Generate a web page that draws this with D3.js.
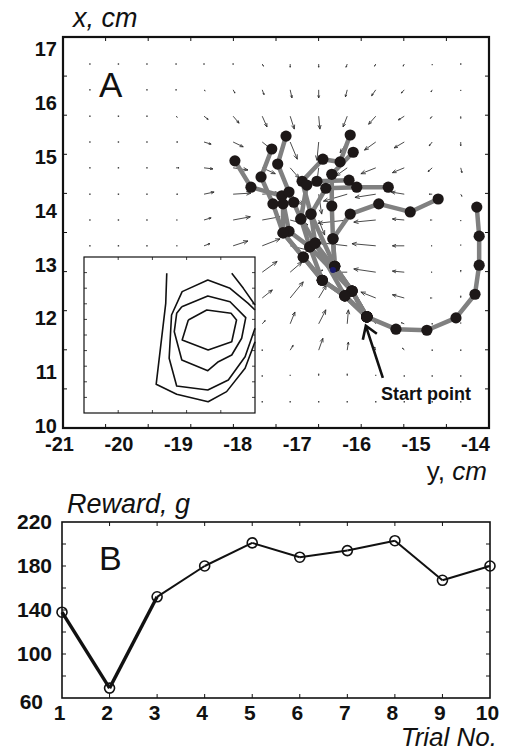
<!DOCTYPE html>
<html>
<head>
<meta charset="utf-8">
<script src="https://cdn.jsdelivr.net/npm/d3@7"></script>
<style>
  body { margin: 0; background: #fff; }
  text { font-family: "Liberation Sans", Arial, sans-serif; fill: #111; }
</style>
</head>
<body>
<svg id="fig" width="512" height="751"></svg>
<script>
// ---- panel A: tick labels ----
const yTicksA = [-21, -20, -19, -18, -17, -16, -15, -14];
const xTicksA = [10, 11, 12, 13, 14, 15, 16, 17];

// ---- panel A: quiver field (grid in cm, components in 0.01 cm) ----
const gridY = [-20.48, -20.0, -19.52, -19.03, -18.56, -18.07, -17.58, -17.11, -16.63, -16.15, -15.67, -15.19, -14.72, -14.24];
const gridX = [16.73, 16.25, 15.76, 15.28, 14.80, 14.31, 13.83, 13.35, 12.86, 12.38, 11.90, 11.41, 10.93, 10.45];
const quiverU = [
  [0,0,0,0,0,0,2,0,0,-2,-2,-2,0,0],
  [0,0,0,0,2,3,3,3,0,-3,-7,-5,-2,0],
  [0,0,0,2,7,10,8,7,2,-7,-12,-10,-3,0],
  [0,0,0,3,12,17,17,12,-3,-12,-19,-17,-5,0],
  [0,0,0,5,15,25,22,15,-3,-19,-25,-20,-7,2],
  [0,0,0,3,17,30,29,22,5,-40,-35,-22,-5,2],
  [0,0,0,2,12,29,30,30,10,-49,-37,-20,-3,0],
  [0,0,0,2,10,25,30,34,8,-47,-40,-20,-2,0],
  [0,0,0,0,0,0,25,20,7,-20,-37,-20,-2,0],
  [0,0,0,0,0,0,17,22,13,-10,-25,-20,-3,0],
  [0,0,0,0,0,0,5,8,12,2,-7,-5,0,0],
  [0,0,0,0,0,0,0,5,7,2,-2,-3,0,0],
  [0,0,0,0,0,0,0,0,0,0,0,0,0,0],
  [0,0,0,0,0,0,0,0,0,0,0,0,0,0]
];
const quiverV = [
  [0,0,0,0,0,0,-4,-6,-6,-6,-4,-4,-2,0],
  [0,0,0,0,-2,-6,-9,-15,-15,-13,-11,-6,-4,-2],
  [0,0,0,-2,-6,-13,-20,-24,-24,-20,-15,-7,-4,-4],
  [0,0,0,0,-4,-9,-15,-32,-34,-20,-15,-11,-7,-7],
  [0,0,0,0,-2,-4,-11,-19,-26,-15,-11,-9,-7,-9],
  [0,0,0,0,4,2,2,-20,-37,-13,-6,4,0,-4],
  [0,0,0,0,4,6,6,-9,-28,-6,-4,2,0,-2],
  [0,0,0,0,4,9,13,-9,-19,6,4,0,0,2],
  [0,0,0,0,0,0,20,19,4,0,6,2,0,4],
  [0,0,0,0,0,0,15,30,24,19,11,6,0,4],
  [0,0,0,0,0,0,6,22,26,26,11,2,0,2],
  [0,0,0,0,0,0,0,9,22,15,6,4,0,0],
  [0,0,0,0,0,0,0,2,4,4,2,0,0,0],
  [0,0,0,0,0,0,0,0,0,0,0,0,0,0]
];

// ---- panel A: trajectories, one per trial, [y cm, x cm] from the start point ----
const trajectories = [
  [[-15.82,12.03],[-15.33,11.80],[-14.81,11.78],[-14.32,12.01],[-14.00,12.45],[-13.93,12.99],[-13.93,13.53],[-13.97,14.07]],
  [[-15.82,12.03],[-16.07,12.51],[-16.36,12.97],[-16.39,13.48],[-16.10,13.94],[-15.62,14.13],[-15.09,13.98],[-14.62,14.22]],
  [[-15.82,12.03],[-16.19,12.42],[-16.57,12.71],[-16.89,13.14],[-17.23,13.59],[-17.40,14.13],[-17.60,14.63],[-17.42,15.15]],
  [[-15.82,12.03],[-16.07,12.51],[-16.78,13.33],[-17.13,13.62],[-17.25,14.28],[-17.77,14.44],[-18.04,14.93]],
  [[-15.82,12.03],[-16.19,12.42],[-16.69,13.40],[-16.93,13.85],[-17.13,14.35],[-17.32,14.87],[-17.18,15.39]],
  [[-15.82,12.03],[-16.07,12.51],[-16.36,12.97],[-16.76,13.94],[-16.91,14.55],[-16.56,14.96],[-16.27,14.91],[-16.10,15.41]],
  [[-15.82,12.03],[-16.07,12.51],[-16.36,12.97],[-16.39,13.48],[-16.41,14.09],[-16.41,14.68],[-16.05,15.09]],
  [[-15.82,12.03],[-16.19,12.42],[-16.57,12.71],[-16.78,13.33],[-16.93,13.85],[-16.83,14.48],[-16.66,14.55],[-16.12,14.57]],
  [[-15.82,12.03],[-16.07,12.51],[-16.69,13.40],[-16.76,13.94],[-16.51,14.42],[-15.99,14.44],[-15.46,14.44]],
  [[-15.82,12.03],[-16.19,12.42],[-16.57,12.71],[-16.89,13.14],[-17.23,13.59],[-17.23,14.13],[-17.05,14.16]]
];
const sinkPoint = [-16.39, 12.90];

// ---- inset: contour lines in inset units (x 0..5, y 0..10) ----
const contour1 = [[2.42,8.96],[2.39,7.03],[2.11,1.84],[2.71,1.20],[3.63,0.72],[4.17,1.37],[4.71,2.87],[5.0,4.57]];
const contourEdge = [[4.32,8.96],[4.66,7.99],[5.0,6.92]];
const contour2 = [[5.0,6.60],[4.80,7.03],[4.27,7.99],[3.62,8.53],[2.87,7.78],[2.56,6.28],[2.49,3.51],[2.71,1.73],[3.62,1.47],[4.22,2.12],[4.71,3.61],[5.0,5.43]];
const contour3 = [[2.86,6.81],[3.62,7.50],[4.27,7.13],[4.73,6.11],[4.61,4.79],[4.32,3.72],[3.93,3.29],[3.62,2.71],[2.86,3.40],[2.64,5.21],[2.71,6.39],[2.86,6.81]];
const contour4 = [[3.05,5.96],[3.59,6.60],[4.30,6.39],[4.46,5.96],[4.32,4.57],[3.63,4.04],[2.87,4.68],[3.05,5.96]];

// ---- panel B ----
const trials = [1, 2, 3, 4, 5, 6, 7, 8, 9, 10];
const reward = [138, 69, 152, 180, 201, 188, 194, 203, 167, 180];
const rewardTicks = [60, 100, 140, 180, 220];

const svg = d3.select('#fig');

// ================= panel A =================
const frameA = { l: 63, t: 37, r: 489, b: 428 };
const xA = d3.scaleLinear().domain([-21, -14]).range([59, 475]);
const yA = d3.scaleLinear().domain([10, 17]).range([426, 49.5]);

const gA = svg.append('g');

// quiver
const qg = gA.append('g').attr('stroke', '#2a2a2a').attr('stroke-width', 0.85).attr('fill', 'none');
gridX.forEach((gx, j) => {
  gridY.forEach((gy, i) => {
    const x0 = xA(gy), y0 = yA(gx);
    const x1 = xA(gy + quiverU[j][i] / 100), y1 = yA(gx + quiverV[j][i] / 100);
    const len = Math.hypot(x1 - x0, y1 - y0);
    if (len < 1) {
      qg.append('rect').attr('x', x0 - 0.7).attr('y', y0 - 0.7).attr('width', 1.4).attr('height', 1.4)
        .attr('fill', '#333').attr('stroke', 'none');
      return;
    }
    const a = Math.atan2(y1 - y0, x1 - x0);
    const h = Math.min(5, len * 0.33);
    const p = d3.path();
    p.moveTo(x0, y0); p.lineTo(x1, y1);
    p.moveTo(x1 - h * Math.cos(a - 0.38), y1 - h * Math.sin(a - 0.38));
    p.lineTo(x1, y1);
    p.lineTo(x1 - h * Math.cos(a + 0.38), y1 - h * Math.sin(a + 0.38));
    qg.append('path').attr('d', p.toString());
  });
});

// trajectories
const line = d3.line().x(d => xA(d[0])).y(d => yA(d[1]));
gA.append('g').selectAll('path').data(trajectories).join('path')
  .attr('d', line).attr('fill', 'none').attr('stroke', '#808080')
  .attr('stroke-width', 4.5).attr('stroke-linejoin', 'round').attr('stroke-linecap', 'round');

gA.append('g').selectAll('circle').data(trajectories.flat()).join('circle')
  .attr('cx', d => xA(d[0])).attr('cy', d => yA(d[1])).attr('r', 5.6).attr('fill', '#1d1818');

gA.append('circle').attr('cx', xA(sinkPoint[0])).attr('cy', yA(sinkPoint[1])).attr('r', 3)
  .attr('fill', '#1a1a6e');

// start point annotation
const sx = xA(trajectories[0][0][0]), sy = yA(trajectories[0][0][1]);
gA.append('path')
  .attr('d', `M${sx + 16},${sy + 61}L${sx - 1},${sy + 9}M${sx - 4},${sy + 23}L${sx - 1},${sy + 9}L${sx + 10},${sy + 17}`)
  .attr('fill', 'none').attr('stroke', '#111').attr('stroke-width', 2.6);
gA.append('text').attr('x', 381).attr('y', 400).attr('font-size', 18).attr('font-weight', 'bold')
  .text('Start point');

// inset
const xI = d3.scaleLinear().domain([0, 5]).range([84, 255]);
const yI = d3.scaleLinear().domain([0, 10]).range([413, 257]);
gA.append('rect').attr('x', xI(0)).attr('y', yI(10)).attr('width', xI(5) - xI(0)).attr('height', yI(0) - yI(10))
  .attr('fill', '#fff').attr('stroke', '#111').attr('stroke-width', 1.2);
const ig = gA.append('g').attr('stroke', '#111').attr('stroke-width', 0.8);
d3.range(1, 5).forEach(v => {
  ig.append('line').attr('x1', xI(v)).attr('x2', xI(v)).attr('y1', yI(0)).attr('y2', yI(0) - 3);
  ig.append('line').attr('x1', xI(v)).attr('x2', xI(v)).attr('y1', yI(10)).attr('y2', yI(10) + 3);
});
d3.range(1, 10).forEach(v => {
  ig.append('line').attr('x1', xI(0)).attr('x2', xI(0) + 3).attr('y1', yI(v)).attr('y2', yI(v));
  ig.append('line').attr('x1', xI(5)).attr('x2', xI(5) - 3).attr('y1', yI(v)).attr('y2', yI(v));
});
const cline = d3.line().x(d => xI(d[0])).y(d => yI(d[1]));
gA.append('g').selectAll('path').data([contour1, contourEdge, contour2, contour3, contour4]).join('path')
  .attr('d', cline).attr('fill', 'none').attr('stroke', '#111').attr('stroke-width', 1.6)
  .attr('stroke-linejoin', 'round');

// frame and ticks
gA.append('rect').attr('x', frameA.l).attr('y', frameA.t)
  .attr('width', frameA.r - frameA.l).attr('height', frameA.b - frameA.t)
  .attr('fill', 'none').attr('stroke', '#111').attr('stroke-width', 2.2);
const fx = d3.scaleLinear().domain([0, 10]).range([frameA.l, frameA.r]);
const fy = d3.scaleLinear().domain([0, 10]).range([frameA.b, frameA.t]);
const tg = gA.append('g').attr('stroke', '#111').attr('stroke-width', 1);
d3.range(1, 10).forEach(k => {
  tg.append('line').attr('x1', fx(k)).attr('x2', fx(k)).attr('y1', frameA.b).attr('y2', frameA.b - 4);
  tg.append('line').attr('x1', fx(k)).attr('x2', fx(k)).attr('y1', frameA.t).attr('y2', frameA.t + 4);
  tg.append('line').attr('x1', frameA.l).attr('x2', frameA.l + 4).attr('y1', fy(k)).attr('y2', fy(k));
  tg.append('line').attr('x1', frameA.r).attr('x2', frameA.r - 4).attr('y1', fy(k)).attr('y2', fy(k));
});

const axA_b = gA.append('g').attr('transform', `translate(0,${frameA.b})`)
  .call(d3.axisBottom(xA).tickValues(yTicksA).tickSize(0).tickPadding(9).tickFormat(d => String(d)));
const axA_l = gA.append('g').attr('transform', `translate(${frameA.l},0)`)
  .call(d3.axisLeft(yA).tickValues(xTicksA).tickSize(0).tickPadding(6).tickFormat(d => String(d)));
[axA_b, axA_l].forEach(a => {
  a.select('.domain').remove();
  a.selectAll('text').attr('font-size', 20).attr('font-weight', 'bold')
    .attr('font-family', '"Liberation Sans", Arial, sans-serif').attr('fill', '#111');
});

gA.append('text').attr('x', 73).attr('y', 27).attr('font-size', 27).attr('font-style', 'italic').text('x, cm');
gA.append('text').attr('x', 99).attr('y', 97).attr('font-size', 35).text('A');
const yt = gA.append('text').attr('x', 487).attr('y', 480).attr('font-size', 26).attr('text-anchor', 'end');
yt.append('tspan').text('y, ');
yt.append('tspan').attr('font-style', 'italic').text('cm');

// ================= panel B =================
const frameB = { l: 62, t: 522, r: 490, b: 698 };
const xB = d3.scaleLinear().domain([1, 10]).range([frameB.l, frameB.r]);
const yB = d3.scaleLinear().domain([60, 220]).range([frameB.b, frameB.t]);
const gB = svg.append('g');

gB.append('rect').attr('x', frameB.l).attr('y', frameB.t)
  .attr('width', frameB.r - frameB.l).attr('height', frameB.b - frameB.t)
  .attr('fill', 'none').attr('stroke', '#111').attr('stroke-width', 1.6);
const tb = gB.append('g').attr('stroke', '#111').attr('stroke-width', 1);
trials.slice(1, -1).forEach(t => {
  tb.append('line').attr('x1', xB(t)).attr('x2', xB(t)).attr('y1', frameB.b).attr('y2', frameB.b - 4);
  tb.append('line').attr('x1', xB(t)).attr('x2', xB(t)).attr('y1', frameB.t).attr('y2', frameB.t + 4);
});
d3.range(80, 220, 20).forEach(v => {
  tb.append('line').attr('x1', frameB.l).attr('x2', frameB.l + 4).attr('y1', yB(v)).attr('y2', yB(v));
  tb.append('line').attr('x1', frameB.r).attr('x2', frameB.r - 4).attr('y1', yB(v)).attr('y2', yB(v));
});

const axB_b = gB.append('g').attr('transform', `translate(0,${frameB.b})`)
  .call(d3.axisBottom(xB).tickValues(trials).tickSize(0).tickPadding(7).tickFormat(d3.format('d')));
const axB_l = gB.append('g').attr('transform', `translate(${frameB.l},0)`)
  .call(d3.axisLeft(yB).tickValues(rewardTicks).tickSize(0).tickPadding(10).tickFormat(d3.format('d')));
[axB_b, axB_l].forEach(a => {
  a.select('.domain').remove();
  a.selectAll('text').attr('font-size', 21).attr('font-weight', 'bold')
    .attr('font-family', '"Liberation Sans", Arial, sans-serif').attr('fill', '#111');
});
axB_b.selectAll('text').attr('dx', -3);
axB_l.selectAll('.tick').filter(d => d === 60).select('text').attr('dx', -9).attr('dy', '0.5em');

const pts = trials.map((t, i) => [t, reward[i]]);
gB.append('g').selectAll('line').data(d3.pairs(pts)).join('line')
  .attr('x1', d => xB(d[0][0])).attr('y1', d => yB(d[0][1]))
  .attr('x2', d => xB(d[1][0])).attr('y2', d => yB(d[1][1]))
  .attr('stroke', '#111').attr('stroke-width', (d, i) => i < 2 ? 3.4 : 2);
gB.append('g').selectAll('circle').data(pts).join('circle')
  .attr('cx', d => xB(d[0])).attr('cy', d => yB(d[1])).attr('r', 5)
  .attr('fill', 'none').attr('stroke', '#111').attr('stroke-width', 1.6);

gB.append('text').attr('x', 67).attr('y', 513).attr('font-size', 27).attr('font-style', 'italic').text('Reward, g');
gB.append('text').attr('x', 99).attr('y', 570).attr('font-size', 34).text('B');
gB.append('text').attr('x', 497).attr('y', 746).attr('font-size', 26).attr('font-style', 'italic')
  .attr('text-anchor', 'end').text('Trial No.');
</script>
</body>
</html>
